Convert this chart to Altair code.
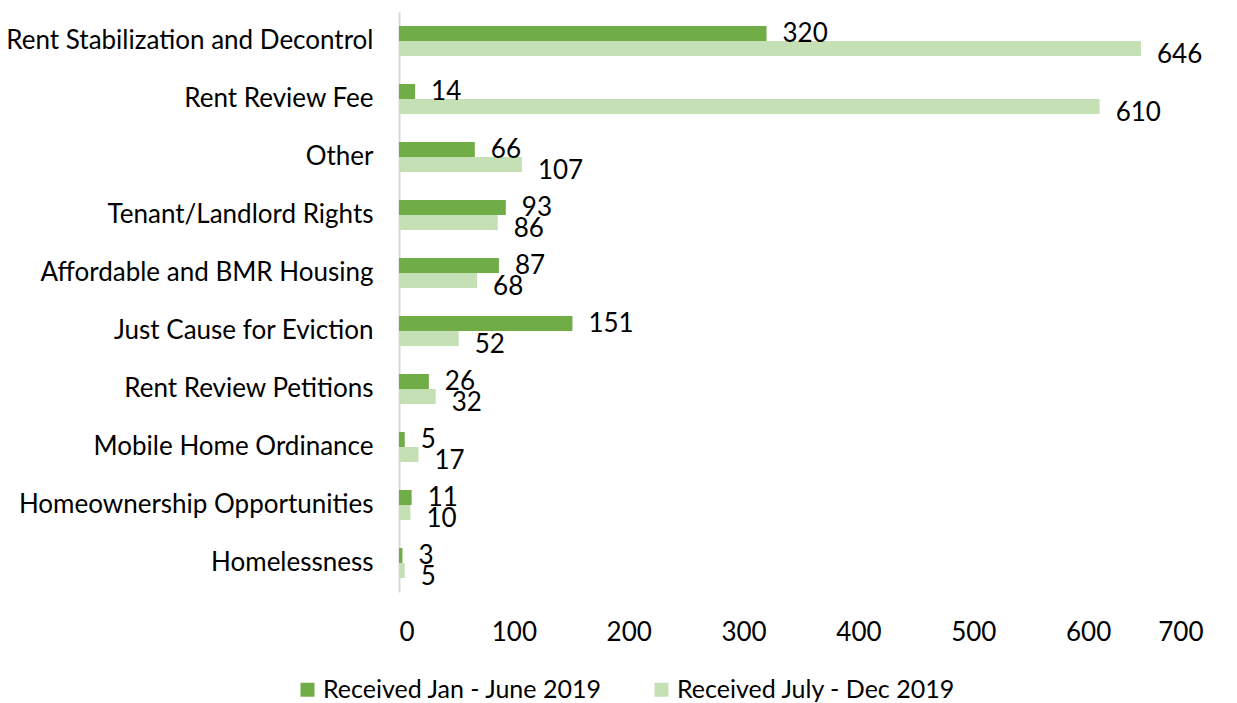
import altair as alt
import pandas as pd

categories = [
    "Rent Stabilization and Decontrol",
    "Rent Review Fee ",
    "Other",
    "Tenant/Landlord Rights",
    "Affordable and BMR Housing",
    "Just Cause for Eviction",
    "Rent Review Petitions",
    "Mobile Home Ordinance",
    "Homeownership Opportunities",
    "Homelessness",
]
jan_june = [320, 14, 66, 93, 87, 151, 26, 5, 11, 3]
july_dec = [646, 610, 107, 86, 68, 52, 32, 17, 10, 5]
series = ["Received Jan - June 2019", "Received July - Dec 2019"]
colors = ["#70AD47", "#C5E0B4"]
x_ticks = [0, 100, 200, 300, 400, 500, 600, 700]

rows = []
for c, a, b in zip(categories, jan_june, july_dec):
    rows.append({"cat": c, "series": series[0], "value": a})
    rows.append({"cat": c, "series": series[1], "value": b})
df = pd.DataFrame(rows)

FONT = "Lato"
FS = 26

pi = 28 / 58
y_enc = alt.Y("cat:N", sort=categories, scale=alt.Scale(paddingInner=pi, paddingOuter=pi / 2),
              axis=alt.Axis(title=None, ticks=False, labelPadding=26, labelFont=FONT,
                            labelFontSize=FS, labelColor="#000000", domainColor="#D9D9D9",
                            domainWidth=2, labelLimit=500))
x_enc = alt.X("value:Q", scale=alt.Scale(domain=[0, 700], nice=False),
              axis=alt.Axis(title=None, values=x_ticks, ticks=False, domain=False, grid=False,
                            labelPadding=27, labelFont=FONT, labelFontSize=FS,
                            labelColor="#000000"))
yoff = alt.YOffset("series:N", sort=series, scale=alt.Scale(paddingInner=0, paddingOuter=0))

bars = alt.Chart(df).mark_bar(size=15).encode(
    y=y_enc, x=x_enc, yOffset=yoff,
    color=alt.Color("series:N", sort=series,
                    scale=alt.Scale(domain=series, range=colors),
                    legend=alt.Legend(title=None, orient="none", direction="horizontal",
                                      legendX=-104, legendY=665, symbolType="square",
                                      symbolSize=196, symbolStrokeWidth=0,
                                      labelFont=FONT, labelFontSize=25, labelColor="#000000",
                                      columnPadding=46, labelOffset=3, labelLimit=400)),
)

text1 = alt.Chart(df).transform_filter(alt.datum.series == series[0]).mark_text(
    align="left", baseline="middle", dx=16, dy=0, font=FONT, fontSize=FS, color="#000000"
).encode(y=y_enc, x=x_enc, yOffset=yoff, text="value:Q")

text2 = alt.Chart(df).transform_filter(alt.datum.series == series[1]).mark_text(
    align="left", baseline="middle", dx=16, dy=6, font=FONT, fontSize=FS, color="#000000"
).encode(y=y_enc, x=x_enc, yOffset=yoff, text="value:Q")

chart = alt.layer(bars, text1, text2).properties(
    width=804, height=580,
    background="white",
    autosize=alt.AutoSizeParams(type="none"),
    padding={"left": 399, "top": 12, "right": 34, "bottom": 111},
).configure_view(strokeWidth=0)

chart.save("out.html", embed_options={"renderer": "svg", "actions": False})
